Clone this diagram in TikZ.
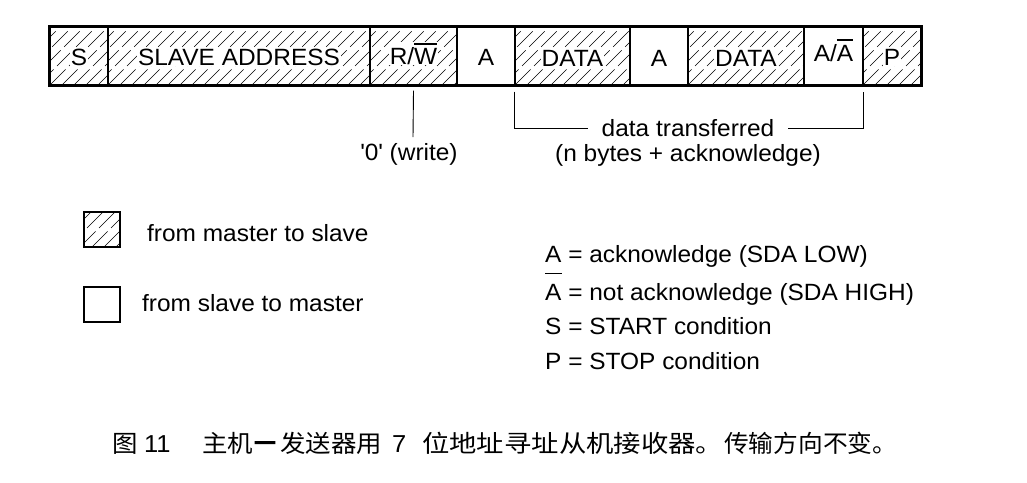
\documentclass[tikz,border=0pt]{standalone}
\usepackage{fontspec}
\setmainfont{Liberation Sans}[FakeStretch=1.04]
\newfontfamily\cjka{Noto Sans CJK SC}[FakeStretch=1.06]
\newfontfamily\cjkb{Noto Sans CJK SC}[FakeStretch=1.14]
\newfontfamily\cjkc{Noto Sans CJK SC}[FakeStretch=1.03]
\newfontfamily\cjkbar{Noto Sans CJK SC}[FakeStretch=0.9,FakeBold=4]
\usetikzlibrary{calc}
\newcommand\myovl[2]{\leavevmode\setbox0=\hbox{#2}\rlap{\raisebox{#1}{\rule{\wd0}{1.2pt}}}\box0\relax}
\newcommand\hatchrect[4]{%
  \begin{scope}
    \clip (#1,#2) rectangle (#3,#4);
    \foreach \k in {0,...,40}{\draw[hatchline] ({#1-60+\k*12},#4) -- ++(60,-60);}
  \end{scope}}
\tikzset{
  cell/.style={draw, line width=1.3pt, minimum height=58pt, inner sep=0pt},
  txt/.style={fill=white, inner sep=1pt, anchor=base, font=\fontsize{23.5}{27}\selectfont},
  plain/.style={inner sep=0pt, font=\fontsize{23.5}{27}\selectfont},
  hatchline/.style={line width=0.65pt, dash pattern=on 22pt off 5pt},
  conn/.style={line width=0.9pt},
  legbox/.style={draw, line width=1.1pt, minimum width=36pt, minimum height=35pt, inner sep=0pt},
  captxt/.style={inner sep=0pt, anchor=base west},
}
\begin{document}
\begin{tikzpicture}[x=1pt,y=-1pt]
\useasboundingbox (0,0) rectangle (1027,482);
% hatching of master-to-slave cells
\hatchrect{50}{27}{108}{85}
\hatchrect{108}{27}{370}{85}
\hatchrect{370}{27}{457}{85}
\hatchrect{515}{27}{630}{85}
\hatchrect{688}{27}{804}{85}
\hatchrect{863}{27}{921}{85}
% cells
\node[cell, minimum width=58pt]  (cS)  at (79,56) {};
\node[cell, minimum width=262pt] (cAd) at (239,56) {};
\node[cell, minimum width=87pt]  (cRW) at (413.5,56) {};
\node[cell, minimum width=58pt]  (cA1) at (486,56) {};
\node[cell, minimum width=115pt] (cD1) at (572.5,56) {};
\node[cell, minimum width=58pt]  (cA2) at (659,56) {};
\node[cell, minimum width=116pt] (cD2) at (746,56) {};
\node[cell, minimum width=59pt]  (cAA) at (833.5,56) {};
\node[cell, minimum width=58pt]  (cP)  at (892,56) {};
\draw[line width=2pt] (cS.north west) rectangle (cP.south east);
% cell texts
\node[txt] (tS)  at (79,65) {S};
\node[txt] (tAd) at (239,65) {SLAVE ADDRESS};
\node[txt] (tRW) at (413.5,64) {R/\myovl{19.5pt}{W}};
\node[txt] (tA1) at (486,65) {A};
\node[txt] (tD1) at (572.5,66) {DATA};
\node[txt] (tA2) at (659,66) {A};
\node[txt] (tD2) at (746,66) {DATA};
\node[txt] (tAA) at (833.5,61) {A/\myovl{20.5pt}{A}};
\node[txt] (tP)  at (892,65) {P};
% annotations
\node[plain, anchor=base] (wr) at (409,160) {\textquotesingle 0\textquotesingle{} (write)};
\coordinate (wtop) at (413,137);
\draw[conn] ([yshift=-5pt]cRW.south) -- (wtop);
\node[plain, inner xsep=14pt] (dt) at (688,128.5) {data transferred};
\node[plain, anchor=base] (nb) at (688,161) {(n bytes + acknowledge)};
\draw[conn] ([yshift=-6pt]cD1.south west) |- (dt.west);
\draw[conn] (dt.east) -| ([yshift=-6pt]cAA.south east);
% legend
\begin{scope}
  \clip (84,212) rectangle (120,247);
  \foreach \k in {0,...,10}{\draw[hatchline] ({84-40+\k*12},247) -- ++(40,-40);}
\end{scope}
\node[legbox] (lh) at (102,229.5) {};
\node[plain, anchor=base west] (lht) at (147,241) {from master to slave};
\node[legbox] (le) at (102,304.5) {};
\node[plain, anchor=base west] (let) at (142,311) {from slave to master};
\node[plain, anchor=base west] (k1) at (545,262) {A = acknowledge (SDA LOW)};
\node[plain, anchor=base west] (k2) at (545,300) {\myovl{26pt}{A} = not acknowledge (SDA HIGH)};
\node[plain, anchor=base west] (k3) at (545,334) {S = START condition};
\node[plain, anchor=base west] (k4) at (545,369) {P = STOP condition};
% caption
\node[captxt, font=\fontsize{24}{28}\cjka] (c1) at (112,452) {图};
\node[captxt, font=\fontsize{24.5}{28}\selectfont] (c2) at (144,452) {11};
\node[captxt, font=\fontsize{24}{28}\cjka] (c3) at (202,452) {主机};
\node[captxt, font=\fontsize{24}{28}\cjkbar] (c3b) at (254,452) {一};
\node[captxt, font=\fontsize{24}{28}\cjka] (c3c) at (280,452) {发送器用};
\node[captxt, font=\fontsize{24.5}{28}\selectfont] (c4) at (392,452) {7};
\node[captxt, font=\fontsize{24}{28}\cjkb] (c5) at (422,452) {位地址寻址从机接收器。};
\node[captxt, font=\fontsize{24}{28}\cjkc] (c6) at (724,452) {传输方向不变。};
\end{tikzpicture}
\end{document}
